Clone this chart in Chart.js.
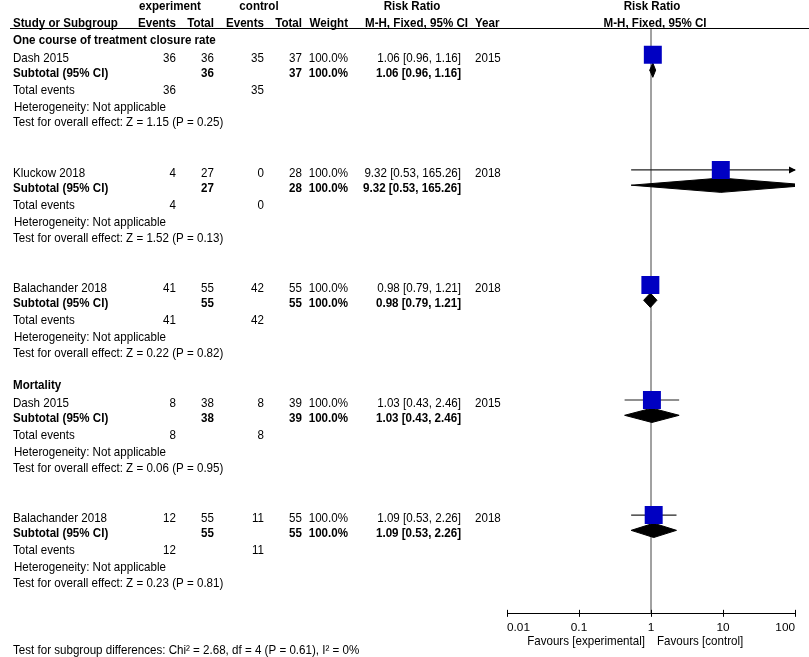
<!DOCTYPE html>
<html>
<head>
<meta charset="utf-8">
<script src="https://cdn.jsdelivr.net/npm/chart.js@4.4.1/dist/chart.umd.min.js"></script>
<style>
  body { margin: 0; background: #fff; }
  #forest { display: block; background: #fff; }
</style>
</head>
<body>
<canvas id="forest" width="809" height="657"></canvas>
<script>
// data
const sections = ['One course of treatment closure rate', '', '', 'Mortality', ''];
const studies = ['Dash 2015', 'Kluckow 2018', 'Balachander 2018', 'Dash 2015', 'Balachander 2018'];
const years = [2015, 2018, 2018, 2015, 2018];
const expEvents = [36, 4, 41, 8, 12];
const expTotal = [36, 27, 55, 38, 55];
const ctrlEvents = [35, 0, 42, 8, 11];
const ctrlTotal = [37, 28, 55, 39, 55];
const weights = [100, 100, 100, 100, 100];
const rr = [1.06, 9.32, 0.98, 1.03, 1.09];
const rrLow = [0.96, 0.53, 0.79, 0.43, 0.53];
const rrHigh = [1.16, 165.26, 1.21, 2.46, 2.26];
const zValues = ['1.15', '1.52', '0.22', '0.06', '0.23'];
const pValues = ['0.25', '0.13', '0.82', '0.95', '0.81'];
const tickValues = [0.01, 0.1, 1, 10, 100];
const tickLabels = ['0.01', '0.1', '1', '10', '100'];
const subgroupTest = 'Test for subgroup differences: Chi\u00b2 = 2.68, df = 4 (P = 0.61), I\u00b2 = 0%';

// layout (rows counted in lines below the header rule)
const FONT = '"Liberation Sans", Arial, Helvetica, sans-serif';
const FS = 12.4;       // text is a bit narrow in the original, so squeeze it
const SQUEEZE = 0.935;
const firstRow = 1.86, groupStep = 7.07;
const rowOf = (g, k) => firstRow + groupStep * g + [0, 0.94, 2.0, 3.0, 3.98][k];
const col = { study: 13, expEv: 176, expTot: 214, ctlEv: 264, ctlTot: 302, weight: 348, ci: 461, year: 475 };
const markShift = 0.21;
const diamondHalf = 0.44;

Chart.defaults.font.family = FONT;
Chart.defaults.font.size = 11.8;
Chart.defaults.color = '#000';

const datasets = [];
datasets.push({
  type: 'scatter',
  order: 0,
  data: rr.map((v, i) => ({ x: v, y: rowOf(i, 0) - markShift })),
  pointStyle: 'rect',
  pointRadius: 12.7,
  backgroundColor: '#0000c2',
  borderWidth: 0
});
rr.forEach((v, i) => {
  datasets.push({
    type: 'line',
    order: 1,
    data: [{ x: rrLow[i], y: rowOf(i, 0) - markShift }, { x: rrHigh[i], y: rowOf(i, 0) - markShift }],
    borderColor: '#222',
    borderWidth: 1.2,
    pointRadius: 0,
    fill: false
  });
  const yd = rowOf(i, 1) - markShift;
  datasets.push({
    type: 'line',
    order: 2,
    data: [
      { x: rrLow[i], y: yd }, { x: v, y: yd - diamondHalf },
      { x: rrHigh[i], y: yd }, { x: v, y: yd + diamondHalf }, { x: rrLow[i], y: yd }
    ],
    borderColor: '#000',
    borderWidth: 1,
    backgroundColor: '#000',
    pointRadius: 0,
    fill: 'shape'
  });
});

const forestTable = {
  id: 'forestTable',
  beforeDatasetsDraw(chart) {
    const { ctx, chartArea, scales } = chart;
    const x1 = scales.x.getPixelForValue(1);
    ctx.save();
    ctx.strokeStyle = '#444';
    ctx.lineWidth = 1;
    ctx.beginPath();
    ctx.moveTo(x1, chartArea.top);
    ctx.lineTo(x1, chartArea.bottom);
    ctx.stroke();
    ctx.restore();
  },
  afterDatasetsDraw(chart) {
    const { ctx, chartArea, scales } = chart;
    ctx.save();
    ctx.fillStyle = '#000';
    rrHigh.forEach((h, i) => {
      if (h <= scales.x.max) return;
      const y = scales.y.getPixelForValue(rowOf(i, 0) - markShift);
      const r = chartArea.right;
      ctx.beginPath();
      ctx.moveTo(r + 1, y);
      ctx.lineTo(r - 6, y - 3.5);
      ctx.lineTo(r - 6, y + 3.5);
      ctx.closePath();
      ctx.fill();
    });
    ctx.restore();
  },
  afterDraw(chart) {
    const { ctx, chartArea, scales } = chart;
    const write = (txt, x, y, align, bold) => {
      ctx.save();
      ctx.font = (bold ? 'bold ' : '') + FS + 'px ' + FONT;
      ctx.textAlign = align || 'left';
      ctx.translate(x, y);
      ctx.scale(SQUEEZE, 1);
      ctx.fillText(String(txt), 0, 0);
      ctx.restore();
    };
    const put = (txt, x, line, align, bold) => write(txt, x, scales.y.getPixelForValue(line), align, bold);
    ctx.save();
    ctx.fillStyle = '#000';
    ctx.textBaseline = 'middle';

    // header
    const h1 = -1.31, h2 = -0.25;
    put('experiment', 170, h1, 'center', true);
    put('control', 259, h1, 'center', true);
    put('Risk Ratio', 412, h1, 'center', true);
    put('Risk Ratio', 652, h1, 'center', true);
    put('Study or Subgroup', col.study, h2, 'left', true);
    put('Events', col.expEv, h2, 'right', true);
    put('Total', col.expTot, h2, 'right', true);
    put('Events', col.ctlEv, h2, 'right', true);
    put('Total', col.ctlTot, h2, 'right', true);
    put('Weight', col.weight, h2, 'right', true);
    put('M-H, Fixed, 95% CI', 468, h2, 'right', true);
    put('Year', col.year, h2, 'left', true);
    put('M-H, Fixed, 95% CI', 655, h2, 'center', true);

    ctx.strokeStyle = '#000';
    ctx.lineWidth = 1;
    ctx.beginPath();
    ctx.moveTo(10, chartArea.top + 0.5);
    ctx.lineTo(chart.width, chartArea.top + 0.5);
    ctx.stroke();

    // rows
    studies.forEach((name, g) => {
      if (sections[g]) put(sections[g], col.study, rowOf(g, 0) - 1.07, 'left', true);
      const ci = rr[g].toFixed(2) + ' [' + rrLow[g].toFixed(2) + ', ' + rrHigh[g].toFixed(2) + ']';
      const w = weights[g].toFixed(1) + '%';
      let r = rowOf(g, 0);
      put(name, col.study, r);
      put(expEvents[g], col.expEv, r, 'right');
      put(expTotal[g], col.expTot, r, 'right');
      put(ctrlEvents[g], col.ctlEv, r, 'right');
      put(ctrlTotal[g], col.ctlTot, r, 'right');
      put(w, col.weight, r, 'right');
      put(ci, col.ci, r, 'right');
      put(years[g], col.year, r);
      r = rowOf(g, 1);
      put('Subtotal (95% CI)', col.study, r, 'left', true);
      put(expTotal[g], col.expTot, r, 'right', true);
      put(ctrlTotal[g], col.ctlTot, r, 'right', true);
      put(w, col.weight, r, 'right', true);
      put(ci, col.ci, r, 'right', true);
      r = rowOf(g, 2);
      put('Total events', col.study, r);
      put(expEvents[g], col.expEv, r, 'right');
      put(ctrlEvents[g], col.ctlEv, r, 'right');
      put('Heterogeneity: Not applicable', col.study + 1, rowOf(g, 3));
      put('Test for overall effect: Z = ' + zValues[g] + ' (P = ' + pValues[g] + ')', col.study, rowOf(g, 4));
    });
    put(subgroupTest, col.study, 38.28);

    // axis tick marks and favours labels
    ctx.strokeStyle = '#000';
    ctx.beginPath();
    tickValues.forEach(v => {
      const x = Math.round(scales.x.getPixelForValue(v)) + 0.5;
      ctx.moveTo(x, chartArea.bottom - 4);
      ctx.lineTo(x, chartArea.bottom + 3);
    });
    ctx.stroke();
    const x1 = scales.x.getPixelForValue(1);
    write('Favours [experimental]', x1 - 6, chartArea.bottom + 28, 'right');
    write('Favours [control]', x1 + 6, chartArea.bottom + 28, 'left');
    ctx.restore();
  }
};

const ctx = document.getElementById('forest').getContext('2d');
const forestChart = new Chart(ctx, {
  type: 'scatter',
  data: { datasets: datasets },
  options: {
    responsive: false,
    animation: false,
    layout: { padding: { left: 507, right: 14, top: 28, bottom: 15 } },
    plugins: { legend: { display: false }, tooltip: { enabled: false } },
    scales: {
      x: {
        type: 'logarithmic',
        min: 0.01,
        max: 100,
        grid: { display: false, drawTicks: false },
        border: { display: true, color: '#000', width: 1 },
        afterBuildTicks: (scale) => { scale.ticks = tickValues.map(v => ({ value: v })); },
        ticks: {
          autoSkip: false,
          maxRotation: 0,
          padding: 7,
          align: 'inner',
          color: '#000',
          callback: (value, index) => tickLabels[index]
        }
      },
      y: { type: 'linear', display: false, reverse: true, min: 0, max: 36 }
    }
  },
  plugins: [forestTable]
});
</script>
</body>
</html>
